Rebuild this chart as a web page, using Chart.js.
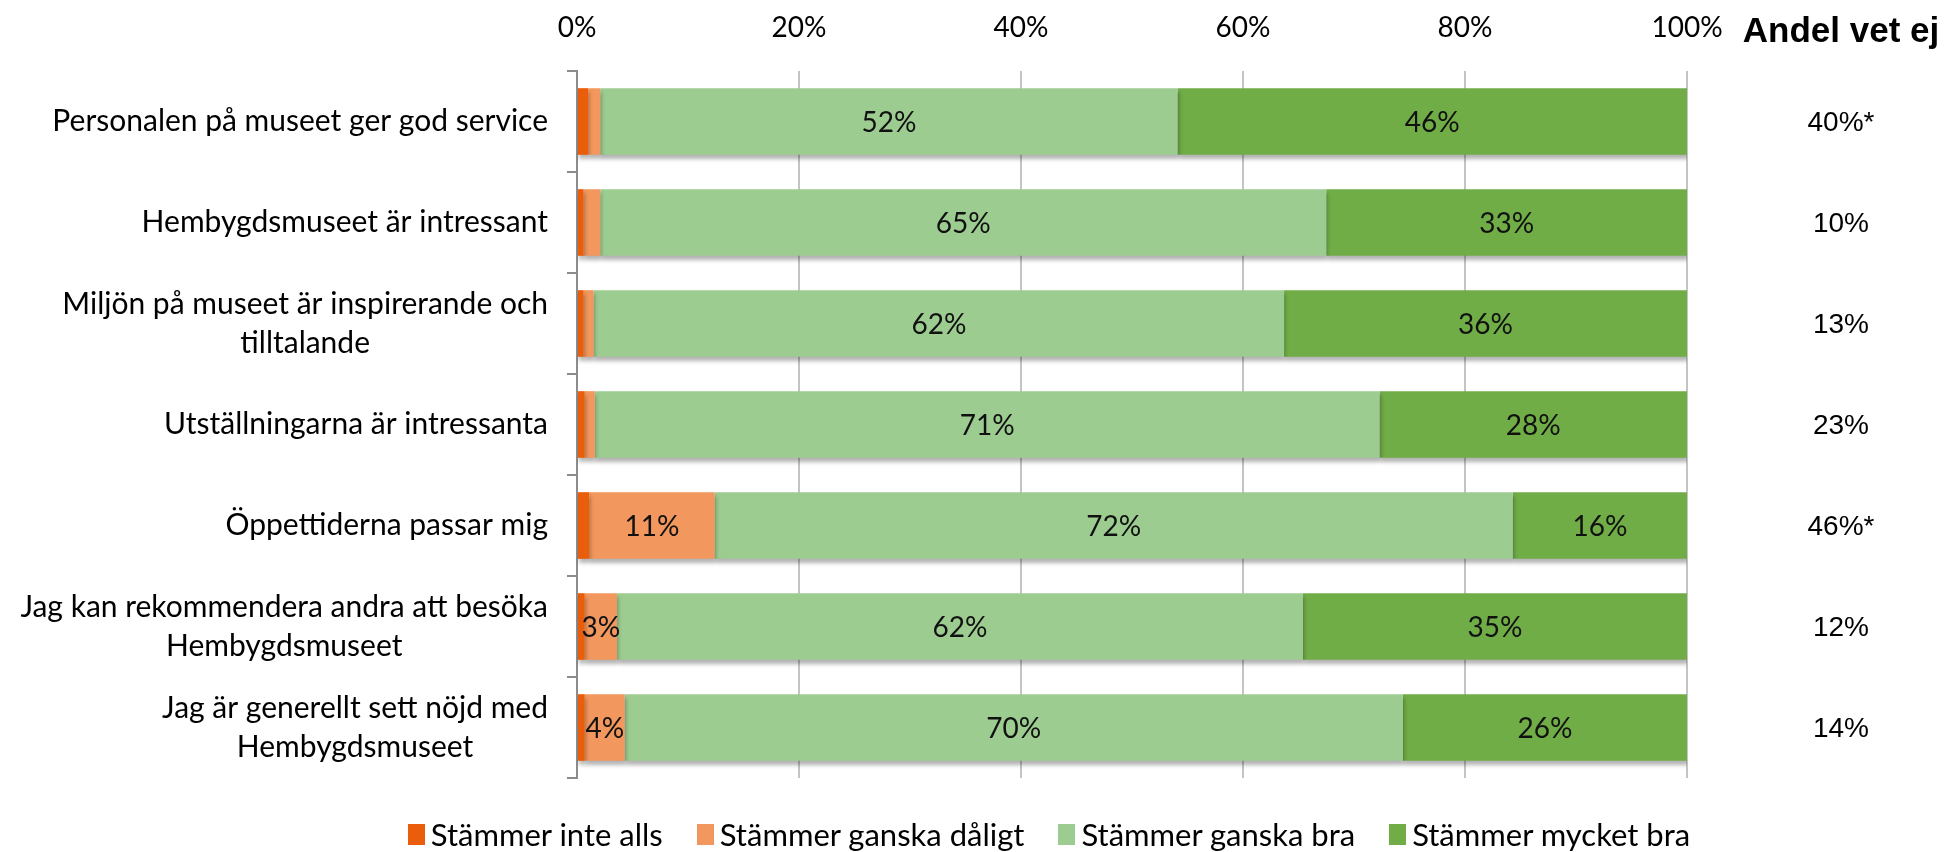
<!DOCTYPE html>
<html>
<head>
<meta charset="utf-8">
<script src="https://cdn.jsdelivr.net/npm/chart.js@4.4.1/dist/chart.umd.min.js"></script>
<style>
  html, body { margin: 0; padding: 0; background: #fff; }
  #wrap { position: relative; width: 1952px; height: 852px; }
  #legend {
    position: absolute; left: 146px; right: 0; top: 815px;
    display: flex; justify-content: center; align-items: center;
    font-family: Lato, sans-serif; font-size: 31px; color: #000;
  }
  #legend .item { display: flex; align-items: center; margin: 0 17px; }
  #legend .box { width: 17px; height: 21px; margin-right: 6px; }
</style>
</head>
<body>
<div id="wrap">
  <canvas id="chart" width="1952" height="852"></canvas>
  <div id="legend"></div>
</div>
<script>
const categories = [
  ['Personalen på museet ger god service'],
  ['Hembygdsmuseet är intressant'],
  ['Miljön på museet är inspirerande och', 'tilltalande'],
  ['Utställningarna är intressanta'],
  ['Öppettiderna passar mig'],
  ['Jag kan rekommendera andra att besöka', 'Hembygdsmuseet'],
  ['Jag är generellt sett nöjd med', 'Hembygdsmuseet'],
]
const seriesNames = ['Stämmer inte alls', 'Stämmer ganska dåligt', 'Stämmer ganska bra', 'Stämmer mycket bra']
const seriesColors = ['#EA5E0B', '#F2975D', '#9DCC91', '#70AD47']
const inteAlls = [1.0, 0.6, 0.6, 0.7, 1.1, 0.7, 0.7]
const ganskaDaligt = [1.1, 1.5, 0.9, 0.9, 11.3, 2.9, 3.6]
const ganskaBra = [52.0, 65.4, 62.2, 70.7, 71.9, 61.8, 70.1]
const mycketBra = [45.9, 32.5, 36.3, 27.7, 15.7, 34.6, 25.6]
const andelVetEj = ['40%*', '10%', '13%', '23%', '46%*', '12%', '14%']
const vetEjTitle = 'Andel vet ej'
const xMax = 100
const xStep = 20

const FONT = 'Lato, sans-serif'
const seriesValues = [inteAlls, ganskaDaligt, ganskaBra, mycketBra]

// bar shadow like the Excel original
const shadowPlugin = {
  id: 'barShadow',
  beforeDatasetsDraw(chart) {
    const ctx = chart.ctx
    ctx.save()
    ctx.shadowColor = 'rgba(0, 0, 0, 0.3)'
    ctx.shadowOffsetX = 1
    ctx.shadowOffsetY = 4
    ctx.shadowBlur = 4
  },
  afterDatasetsDraw(chart) {
    chart.ctx.restore()
  },
}

const textPlugin = {
  id: 'texts',
  afterDatasetsDraw(chart) {
    const ctx = chart.ctx
    ctx.save()
    ctx.font = '28px ' + FONT
    ctx.fillStyle = '#111'
    ctx.textAlign = 'center'
    ctx.textBaseline = 'middle'
    chart.data.datasets.forEach((ds, i) => {
      chart.getDatasetMeta(i).data.forEach((bar, j) => {
        const v = ds.data[j]
        if (v < 2.5) return
        ctx.fillText(Math.round(v) + '%', (bar.x + bar.base) / 2, bar.y + 1)
      })
    })
    ctx.restore()
  },
  afterDraw(chart) {
    const ctx = chart.ctx
    const y = chart.scales.y
    ctx.save()
    ctx.fillStyle = '#000'
    ctx.textBaseline = 'middle'

    // category labels, centred lines inside a right aligned block
    ctx.font = '30px ' + FONT
    ctx.textAlign = 'center'
    const right = chart.chartArea.left - 29
    categories.forEach((lines, j) => {
      const w = Math.max(...lines.map(l => ctx.measureText(l).width))
      const cy = y.getPixelForValue(j)
      const lh = 39
      lines.forEach((l, k) => {
        ctx.fillText(l, right - w / 2, cy + (k - (lines.length - 1) / 2) * lh)
      })
    })

    // right column
    const cx = chart.chartArea.right + 154
    ctx.font = 'bold 35px "Liberation Sans", Arial, sans-serif'
    ctx.fillText(vetEjTitle, cx, 32)
    ctx.font = '28px "Liberation Sans", Arial, sans-serif'
    andelVetEj.forEach((t, j) => {
      ctx.fillText(t, cx, y.getPixelForValue(j) + 2)
    })
    ctx.restore()
  },
}

const chart = new Chart(document.getElementById('chart'), {
  type: 'bar',
  data: {
    labels: categories.map(c => c.join(' ')),
    datasets: seriesNames.map((name, i) => ({
      label: name,
      data: seriesValues[i],
      backgroundColor: seriesColors[i],
      borderWidth: 0,
      categoryPercentage: 0.66,
      barPercentage: 1,
    })),
  },
  options: {
    indexAxis: 'y',
    responsive: false,
    animation: false,
    layout: { padding: { left: 0, right: 265, top: 0, bottom: 74 } },
    plugins: {
      legend: { display: false },
      tooltip: { enabled: false },
    },
    scales: {
      x: {
        position: 'top',
        stacked: true,
        min: 0,
        max: xMax,
        border: { display: false },
        grid: { color: '#c4c4c4', lineWidth: 2, drawTicks: false },
        ticks: {
          stepSize: xStep,
          padding: 26,
          color: '#000',
          font: { family: FONT, size: 28 },
          callback: v => v + '%',
        },
        afterFit(scale) { scale.height = 71 },
      },
      y: {
        stacked: true,
        border: { display: true, color: '#8c8c8c', width: 2 },
        grid: { drawOnChartArea: false, offset: true, tickLength: 10, color: '#8c8c8c', lineWidth: 2 },
        ticks: { display: false },
        afterFit(scale) { scale.width = 577 },
      },
    },
  },
  plugins: [shadowPlugin, textPlugin],
})

const legend = document.getElementById('legend')
seriesNames.forEach((name, i) => {
  const item = document.createElement('div')
  item.className = 'item'
  const box = document.createElement('span')
  box.className = 'box'
  box.style.background = seriesColors[i]
  const txt = document.createElement('span')
  txt.textContent = name
  item.appendChild(box)
  item.appendChild(txt)
  legend.appendChild(item)
})
</script>
</body>
</html>
